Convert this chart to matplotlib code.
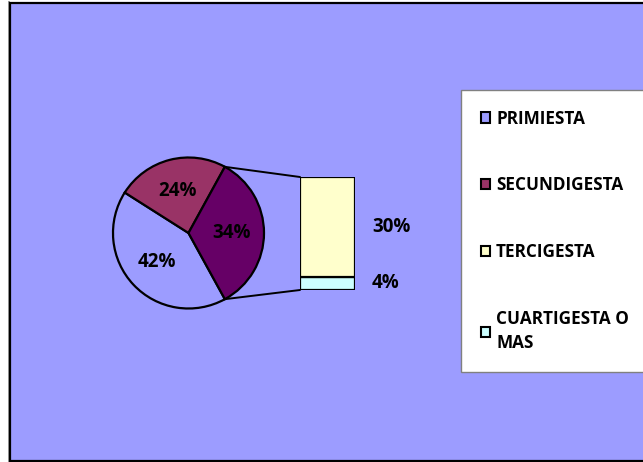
import matplotlib.pyplot as plt
from matplotlib.patches import Rectangle, Patch, ConnectionPatch
import numpy as np

plt.rcParams['font.family'] = ['Open Sans', 'DejaVu Sans']

# data
categories = ['PRIMIESTA', 'SECUNDIGESTA', 'TERCIGESTA', 'CUARTIGESTA O\nMAS']
pie_values = [42, 24, 34]          # last slice = sum of the two bar parts
bar_values = [30, 4]               # TERCIGESTA, CUARTIGESTA O MAS
colors = ['#9C9CFF', '#993366', '#FFFFCC', '#CCFFFF']
other_color = '#660066'
bg = '#9C9CFF'

W, H = 643, 462
fig = plt.figure(figsize=(W / 100, H / 100), dpi=100)
fig.patch.set_facecolor('white')

def box(x0, y0, x1, y1):
    # pixel box (top-left origin) -> figure fraction
    return [x0 / W, 1 - y1 / H, (x1 - x0) / W, (y1 - y0) / H]

# chart area background and frame
fig.patches.append(Rectangle((8 / W, 0), 1.5 / W, 1 - 1 / H, transform=fig.transFigure,
                             facecolor='#a0a0a0', edgecolor='none', zorder=-2))
fig.patches.append(Rectangle((10 / W, 1.5 / H), 1, 1 - 4 / H, transform=fig.transFigure,
                             facecolor=bg, edgecolor='black', linewidth=1.6, zorder=-1))

# pie
ax_pie = fig.add_axes(box(113, 157.5, 264, 308.5))
pie_colors = [colors[0], colors[1], other_color]
wedges, texts, autotexts = ax_pie.pie(
    pie_values, colors=pie_colors, startangle=298.8, counterclock=False,
    autopct='%d%%', pctdistance=0.57,
    wedgeprops=dict(edgecolor='black', linewidth=1.6),
    textprops=dict(fontsize=13.5, fontweight='bold', color='black'))
ax_pie.set_xlim(-1, 1)
ax_pie.set_ylim(-1, 1)
ax_pie.set_aspect('equal')
ax_pie.axis('off')

# bar of the "other" slice
ax_bar = fig.add_axes(box(300, 177, 355, 290))
bottom = 0
bar_order = [(bar_values[1], colors[3]), (bar_values[0], colors[2])]
for v, c in bar_order:
    ax_bar.bar(0, v, width=1, bottom=bottom, color=c, edgecolor='black', linewidth=1.6)
    ax_bar.text(0.81, bottom + v / 2, '%d%%' % v, ha='left', va='center',
                fontsize=13.5, fontweight='bold', clip_on=False)
    bottom += v
ax_bar.set_xlim(-0.5, 0.5)
ax_bar.set_ylim(0, sum(bar_values))
ax_bar.axis('off')

# connector lines
a = np.deg2rad(pie_values[2] / 100 * 360 / 2)
for sgn, yb in [(1, sum(bar_values)), (-1, 0)]:
    con = ConnectionPatch(xyA=(np.cos(a), sgn * np.sin(a)), coordsA=ax_pie.transData,
                          xyB=(-0.5, yb), coordsB=ax_bar.transData,
                          color='black', linewidth=1.4)
    fig.add_artist(con)

# legend
handles = [Patch(facecolor=c, edgecolor='black', linewidth=1.5) for c in colors]
leg = fig.legend(handles, categories, loc='upper left',
                 bbox_to_anchor=(461 / W, 1 - 90 / H), bbox_transform=fig.transFigure,
                 prop=dict(size=12.3, weight='bold'), frameon=True, fancybox=False,
                 framealpha=1, handlelength=0.55, handleheight=0.55, handletextpad=0.35,
                 labelspacing=2.85, borderpad=1.15, borderaxespad=0)
for t in leg.get_texts():
    t.set_linespacing(1.45)
leg.get_frame().set_edgecolor('#808080')
leg.get_frame().set_linewidth(1.0)
leg.get_frame().set_facecolor('white')

fig.savefig('out.png', dpi=100, facecolor=fig.get_facecolor())
